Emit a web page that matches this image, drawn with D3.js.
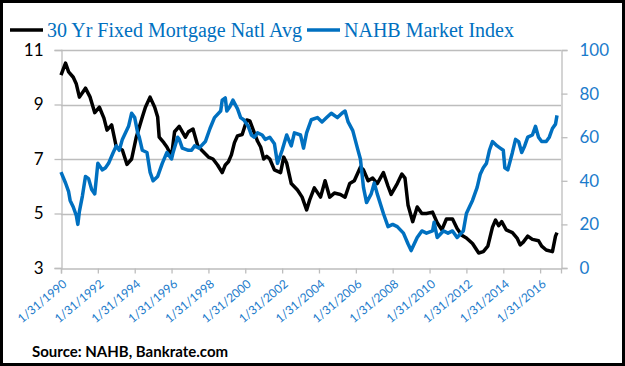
<!DOCTYPE html>
<html>
<head>
<meta charset="utf-8">
<script src="https://cdn.jsdelivr.net/npm/d3@7"></script>
<style>
  html, body { margin: 0; padding: 0; background: #fff; }
  svg { display: block; }
</style>
</head>
<body>
<svg id="chart" width="625" height="366"></svg>
<script>
// 30 Yr fixed mortgage (left axis) vs NAHB market index (right axis).

const MORTGAGE_DATES = [
  "1990-01","1990-04","1990-06","1990-09","1990-11","1991-01","1991-05","1991-08","1991-11","1992-02",
  "1992-05","1992-07","1992-10","1993-01","1993-05","1993-08","1993-11","1994-02","1994-06","1994-08",
  "1994-11","1995-02","1995-04","1995-05","1995-08","1995-10","1996-01","1996-03","1996-06","1996-10",
  "1996-12","1997-03","1997-06","1997-09","1998-01","1998-04","1998-07","1998-10","1998-12","1999-02",
  "1999-04","1999-06","1999-08","1999-11","2000-02","2000-04","2000-06","2000-09","2000-11","2001-01",
  "2001-03","2001-05","2001-08","2001-12","2002-02","2002-04","2002-07","2002-11","2003-02","2003-05",
  "2003-07","2003-10","2004-02","2004-05","2004-08","2004-11","2005-03","2005-06","2005-09","2005-12",
  "2006-04","2006-06","2006-09","2006-12","2007-03","2007-07","2007-10","2007-12","2008-04","2008-07",
  "2008-09","2008-11","2009-02","2009-05","2009-08","2009-11","2010-03","2010-06","2010-09","2010-12",
  "2011-04","2011-07","2011-10","2012-01","2012-05","2012-09","2012-12","2013-03","2013-06","2013-08",
  "2013-10","2013-12","2014-03","2014-07","2014-10","2014-12","2015-02","2015-05","2015-08","2015-12",
  "2016-02","2016-05","2016-09","2016-11","2016-12"
];
const MORTGAGE_RATE = [
  10.08,10.52,10.2,10.0,9.75,9.27,9.6,9.27,8.7,8.9,
  8.5,8.06,8.25,7.44,7.33,6.8,7.0,7.8,8.54,8.9,
  9.27,8.9,8.54,7.8,7.6,7.44,7.1,8.0,8.2,7.8,
  8.0,8.1,7.5,7.3,7.07,7.0,6.78,6.5,6.78,6.9,
  7.15,7.6,7.85,7.9,8.43,8.4,8.1,7.65,7.44,7.0,
  7.1,7.0,6.6,6.5,7.07,6.85,6.1,5.86,5.6,5.13,
  5.5,5.94,5.6,6.2,5.6,5.75,5.7,5.6,6.1,6.2,
  6.7,6.6,6.2,6.3,6.1,6.5,6.0,5.7,6.1,6.45,
  6.3,5.3,4.7,5.24,5.0,5.0,5.05,4.66,4.4,4.8,
  4.8,4.45,4.2,4.1,3.9,3.55,3.6,3.8,4.5,4.76,
  4.55,4.7,4.4,4.3,4.1,3.85,3.95,4.17,4.05,4.0,
  3.8,3.66,3.6,4.17,4.3
];

const NAHB_DATES = [
  "1990-01","1990-04","1990-06","1990-07","1990-09","1990-11","1990-12","1991-01","1991-03","1991-05",
  "1991-07","1991-09","1991-11","1992-01","1992-04","1992-06","1992-08","1992-11","1993-01","1993-03",
  "1993-05","1993-09","1993-11","1994-01","1994-03","1994-04","1994-06","1994-09","1994-11","1995-01",
  "1995-04","1995-07","1995-10","1996-01","1996-02","1996-05","1996-06","1996-08","1996-12","1997-02",
  "1997-04","1997-07","1997-11","1998-02","1998-05","1998-09","1998-10","1998-12","1999-01","1999-03",
  "1999-05","1999-08","1999-10","1999-12","2000-03","2000-05","2000-07","2000-09","2000-12","2001-02",
  "2001-05","2001-08","2001-10","2002-01","2002-04","2002-07","2002-09","2003-01","2003-03","2003-05",
  "2003-08","2003-12","2004-03","2004-06","2004-09","2005-01","2005-04","2005-06","2005-08","2005-11",
  "2006-02","2006-04","2006-06","2006-08","2006-11","2007-01","2007-03","2007-07","2007-10","2008-01",
  "2008-04","2008-08","2008-11","2009-01","2009-05","2009-08","2009-11","2010-03","2010-04","2010-06",
  "2010-10","2011-01","2011-04","2011-07","2011-11","2012-01","2012-03","2012-05","2012-08","2012-10",
  "2012-12","2013-02","2013-04","2013-06","2013-09","2013-11","2014-01","2014-02","2014-04","2014-07",
  "2014-09","2014-11","2015-01","2015-03","2015-05","2015-08","2015-10","2015-12","2016-02","2016-05",
  "2016-07","2016-09","2016-11","2016-12"
];
const NAHB_INDEX = [
  44,39,35,31,28,24,20,26,33,42,
  41,36,34,48,45,46,48,53,56,54,
  59,65,71,69,62,60,54,53,44,40,
  42,48,53,50,53,60,59,55,54,54,
  56,55,58,64,69,72,77,78,72,74,
  77,73,69,68,65,61,60,62,61,59,
  60,57,48,54,61,56,62,61,55,62,
  68,69,67,69,71,69,71,72,67,63,
  55,50,37,30,34,39,34,25,19,20,
  19,16,11,8,14,17,16,17,21,14,
  17,16,17,14,17,25,28,31,37,43,
  46,48,54,58,56,55,54,46,45,53,
  59,58,53,56,60,61,65,60,58,58,
  60,64,66,70
];

const RATE_TICKS = [3, 5, 7, 9, 11];
const INDEX_TICKS = [0, 20, 40, 60, 80, 100];
const YEAR_TICKS = [1990, 1992, 1994, 1996, 1998, 2000, 2002, 2004, 2006, 2008, 2010, 2012, 2014, 2016];

const BLACK = "#000000";
const BLUE = "#0070C0";
const LABEL_BLUE = "#1B7BCB";
const GRID = "#BDBDBD";

const parse = d3.timeParse("%Y-%m");
const mortgage = MORTGAGE_DATES.map((d, i) => ({ date: parse(d), v: MORTGAGE_RATE[i] }));
const nahb = NAHB_DATES.map((d, i) => ({ date: parse(d), v: NAHB_INDEX[i] }));

const svg = d3.select("#chart");
const plot = { left: 61, right: 561, top: 50, bottom: 268 };

const x = d3.scaleTime()
  .domain([new Date(1990, 0, 1), new Date(2017, 1, 18)])
  .range([plot.left, plot.right]);
const yL = d3.scaleLinear().domain([3, 11]).range([plot.bottom, plot.top]);
const yR = d3.scaleLinear().domain([0, 100]).range([plot.bottom, plot.top]);

// outer frame
svg.append("rect").attr("x", 1.5).attr("y", 1.5).attr("width", 622).attr("height", 363)
  .attr("fill", "#fff").attr("stroke", "#000").attr("stroke-width", 3);

// gridlines (left axis)
svg.append("g").selectAll("line").data(RATE_TICKS.filter((t) => t > 3)).join("line")
  .attr("x1", plot.left).attr("x2", plot.right)
  .attr("y1", (d) => Math.round(yL(d)) + 0.5).attr("y2", (d) => Math.round(yL(d)) + 0.5)
  .attr("stroke", GRID).attr("stroke-width", 1.3);

// left axis
const axL = svg.append("g").attr("transform", `translate(${plot.left + 0.5},0)`)
  .call(d3.axisLeft(yL).tickValues(RATE_TICKS).tickSize(7).tickPadding(11).tickFormat(d3.format("d")));
axL.select(".domain").attr("stroke", GRID).attr("stroke-width", 1.3);
axL.selectAll(".tick line").attr("stroke", GRID).attr("stroke-width", 1.3);
axL.selectAll("text").attr("fill", BLACK).style("font", "17px Lato, sans-serif");

// right axis
const axR = svg.append("g").attr("transform", `translate(${plot.right + 0.5},0)`)
  .call(d3.axisRight(yR).tickValues(INDEX_TICKS).tickSize(6).tickPadding(12));
axR.select(".domain").attr("stroke", GRID).attr("stroke-width", 1.3);
axR.selectAll(".tick line").attr("stroke", GRID).attr("stroke-width", 1.3);
axR.selectAll("text").attr("fill", LABEL_BLUE).style("font", "17px Lato, sans-serif");

// bottom axis
const axB = svg.append("g").attr("transform", `translate(0,${plot.bottom + 0.5})`)
  .call(d3.axisBottom(x).tickValues(YEAR_TICKS.map((y) => new Date(y, 0, 1))).tickSize(5).tickFormat(""));
axB.select(".domain").attr("stroke", GRID).attr("stroke-width", 1.3);
axB.selectAll(".tick line").attr("stroke", GRID).attr("stroke-width", 1.3);
svg.append("g").selectAll("text").data(YEAR_TICKS).join("text")
  .attr("transform", (d) => `translate(${x(new Date(d, 0, 1)) + 4},${plot.bottom + 14}) rotate(-40)`)
  .attr("text-anchor", "end").attr("dy", "0.35em")
  .attr("fill", LABEL_BLUE).style("font", "12px Lato, sans-serif")
  .text((d) => `1/31/${d}`);

// series
const lineL = d3.line().x((d) => x(d.date)).y((d) => yL(d.v));
const lineR = d3.line().x((d) => x(d.date)).y((d) => yR(d.v));
svg.append("path").datum(mortgage).attr("d", lineL)
  .attr("fill", "none").attr("stroke", BLACK).attr("stroke-width", 3.5).attr("stroke-linejoin", "round");
svg.append("path").datum(nahb).attr("d", lineR)
  .attr("fill", "none").attr("stroke", BLUE).attr("stroke-width", 3.5).attr("stroke-linejoin", "round");

// legend
const legend = [
  { label: "30 Yr Fixed Mortgage Natl Avg", color: BLACK, x: 10 },
  { label: "NAHB Market Index", color: BLUE, x: 307 },
];
legend.forEach((l) => {
  svg.append("line").attr("x1", l.x).attr("x2", l.x + 33).attr("y1", 30).attr("y2", 30)
    .attr("stroke", l.color).attr("stroke-width", 3.5);
  svg.append("text").attr("x", l.x + 37).attr("y", 37)
    .attr("fill", BLUE).style("font", "20px 'Liberation Serif', 'Times New Roman', serif")
    .text(l.label);
});

// source
svg.append("text").attr("x", 32).attr("y", 357)
  .style("font", "bold 15px Lato, sans-serif").attr("fill", BLACK)
  .text("Source:  NAHB, Bankrate.com");
</script>
</body>
</html>
